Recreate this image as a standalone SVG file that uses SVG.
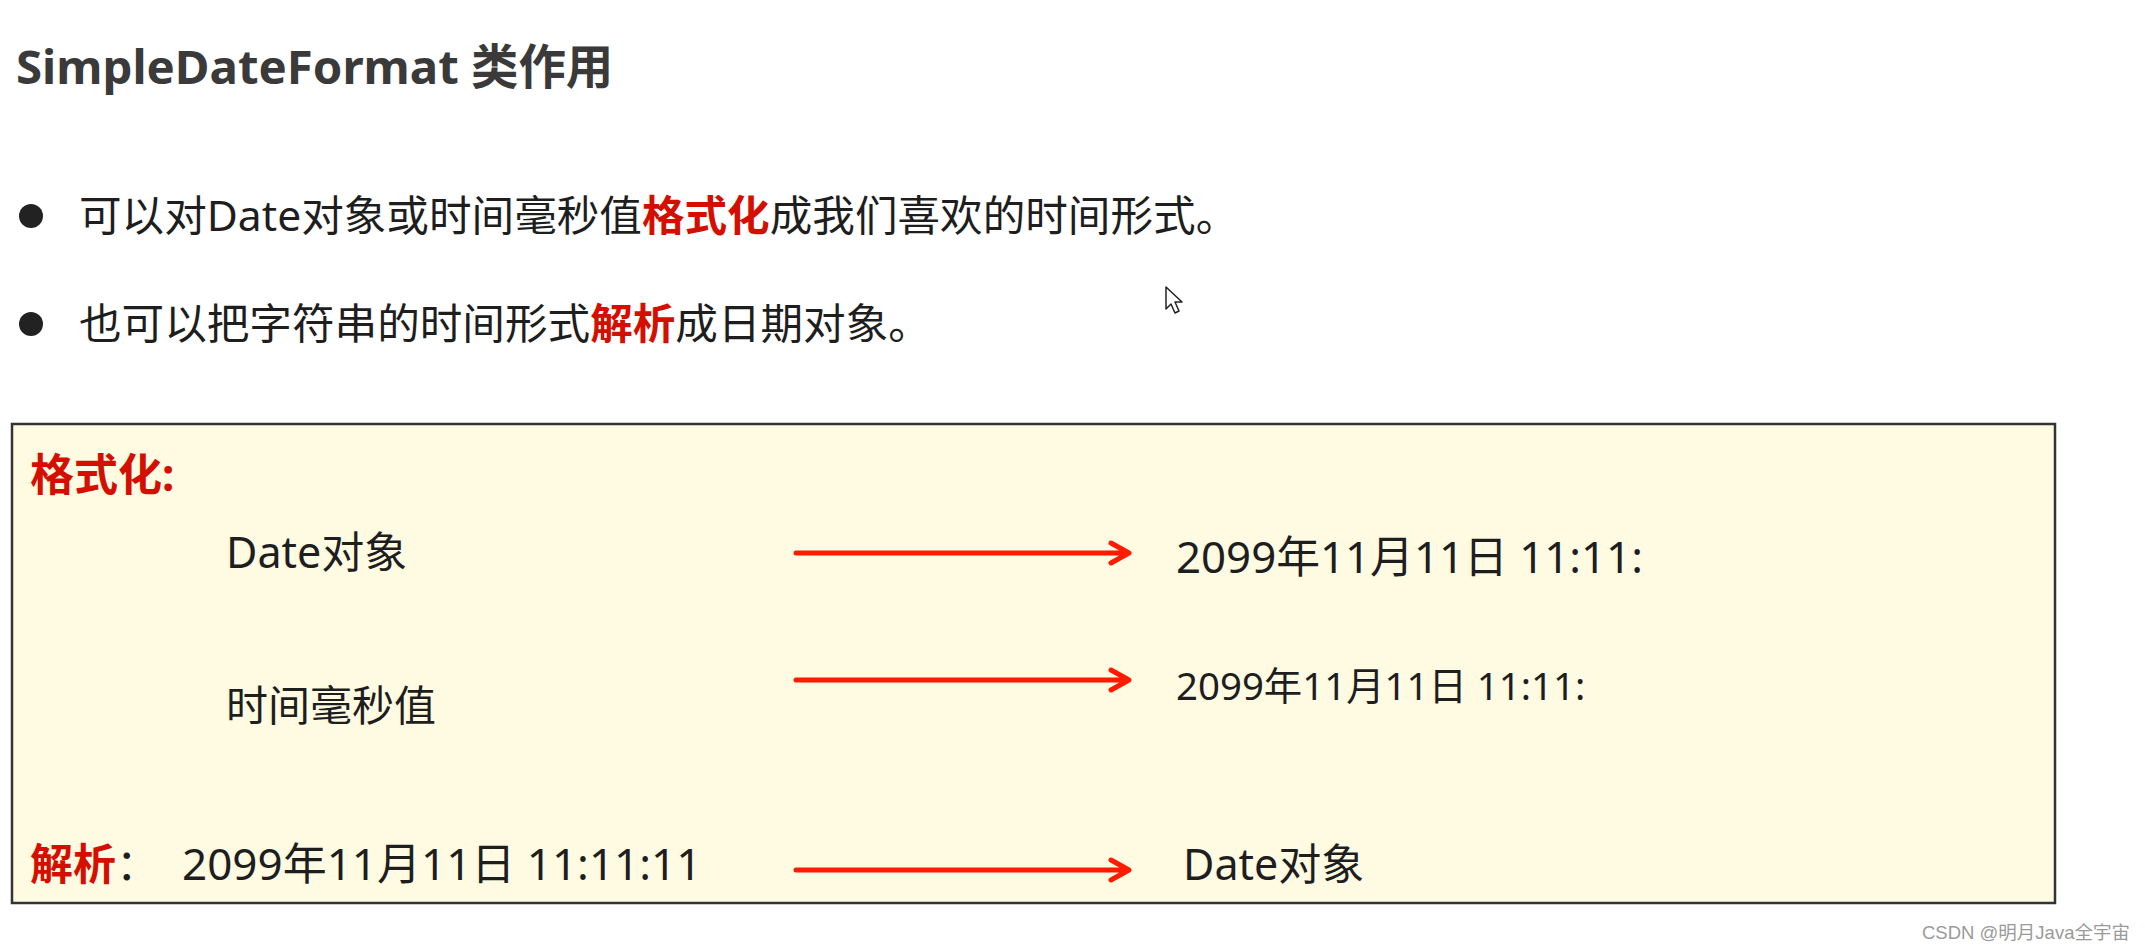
<svg xmlns="http://www.w3.org/2000/svg" width="2145" height="952" viewBox="0 0 2145 952">
<defs>
<style>
.t{font-family:"Noto Sans","Noto Sans CJK SC",sans-serif;fill:#1e1e1e;}
.r{font-family:"Noto Sans","Noto Sans CJK SC",sans-serif;fill:#d40f00;font-weight:bold;}
.ar{stroke:#ff1a00;stroke-width:5;fill:none;stroke-linecap:round;stroke-linejoin:round;}
</style>
</defs>
<rect width="2145" height="952" fill="#ffffff"/>
<g id="title"><text class="t" x="16" y="84" font-size="47.4" font-weight="bold" style="fill:#3a3a3a">SimpleDateFormat 类作用</text></g>
<g id="bullet1">
<circle cx="31" cy="216" r="12" fill="#222"/>
<text class="t" x="79" y="231" font-size="42.6">可以对Date对象或时间毫秒值<tspan class="r">格式化</tspan>成我们喜欢的时间形式。</text>
</g>
<g id="bullet2">
<circle cx="31" cy="324" r="12" fill="#222"/>
<text class="t" x="79" y="339" font-size="42.6">也可以把字符串的时间形式<tspan class="r">解析</tspan>成日期对象。</text>
</g>
<g id="cursor">
<path d="M1166,287 L1166,309 L1171,304 L1175,313 L1179,311 L1175,302 L1182,302 Z" fill="#fff" stroke="#222" stroke-width="1.5" stroke-linejoin="round"/>
</g>
<g id="panel">
<rect x="12" y="424" width="2043" height="479" fill="#fffbe3" stroke="#333" stroke-width="2.5"/>
</g>
<g id="label-format"><text class="r" x="30" y="491" font-size="44">格式化:</text></g>
<g id="node-date"><text class="t" x="226" y="568" font-size="43">Date对象</text></g>
<g id="node-ms"><text class="t" x="226" y="721" font-size="42">时间毫秒值</text></g>
<g id="node-out1"><text class="t" x="1176" y="573" font-size="43.8">2099年11月11日 11:11:</text></g>
<g id="node-out2"><text class="t" x="1176" y="700" font-size="38.4">2099年11月11日 11:11:</text></g>
<g id="label-parse"><text class="t" x="30" y="880" font-size="43"><tspan class="r">解析</tspan>：</text></g>
<g id="node-str"><text class="t" x="182" y="880" font-size="44">2099年11月11日 11:11:11</text></g>
<g id="node-date2"><text class="t" x="1183" y="880" font-size="43">Date对象</text></g>
<g id="connectors">
<path class="ar" d="M796,553 H1128 M1111,543 L1129,553 L1111,563"/>
<path class="ar" d="M796,680 H1128 M1111,670 L1129,680 L1111,690"/>
<path class="ar" d="M796,870 H1128 M1111,860 L1129,870 L1111,880"/>
</g>
<g id="watermark"><text x="1922" y="939" font-family="Liberation Sans, Noto Sans CJK SC, sans-serif" font-size="18.5" fill="#9a9a9a">CSDN @明月Java全宇宙</text></g>
</svg>
